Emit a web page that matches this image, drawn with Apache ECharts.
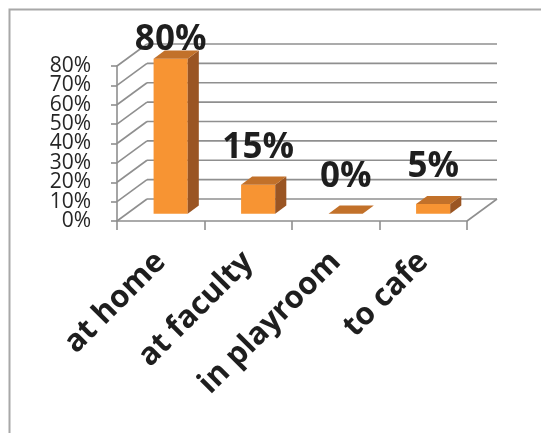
<!DOCTYPE html>
<html>
<head>
<meta charset="utf-8">
<script src="https://cdn.jsdelivr.net/npm/echarts@6/dist/echarts.min.js"></script>
<style>
  html, body { margin: 0; padding: 0; background: #ffffff; }
  #chart { width: 541px; height: 433px; }
</style>
</head>
<body>
<div id="chart"></div>
<script>
// Where the students spend their time
const categories = ['at home', 'at faculty', 'in playroom', 'to cafe'];
const shares = [80, 15, 0, 5];
const yTicks = [0, 10, 20, 30, 40, 50, 60, 70, 80];

// Oblique depth of the pseudo-3D box (pixels from front plane to back wall)
const DEPTH_X = 30;
const DEPTH_Y = -22;
// Bars sit between these depth fractions and fill this share of a band
const BAR_NEAR = 0.33;
const BAR_FAR = 0.70;
const BAR_WIDTH = 0.39;

const GRID_COLOR = '#8f8f8f';
const FRONT = '#F79433';
const SIDE = '#9A5523';
const TOP = '#C2712A';

const chart = echarts.init(document.getElementById('chart'), null, { renderer: 'canvas' });

// Left wall, back wall gridline and the value-axis label for one tick
function wallItem(params, api) {
  const cs = params.coordSys;
  const v = api.value(1);
  const yF = api.coord([0, v])[1];
  const xL = cs.x;
  const xR = cs.x + cs.width;
  const style = { stroke: GRID_COLOR, lineWidth: 1.6, fill: null };
  const children = [
    { type: 'line', shape: { x1: xL, y1: yF, x2: xL + DEPTH_X, y2: yF + DEPTH_Y }, style },
    { type: 'line', shape: { x1: xL + DEPTH_X, y1: yF + DEPTH_Y, x2: xR + DEPTH_X, y2: yF + DEPTH_Y }, style },
    {
      type: 'text',
      style: {
        x: xL - 26, y: yF,
        text: v + '%',
        fill: '#262626',
        font: '21px "Open Sans"',
        align: 'right', verticalAlign: 'middle'
      }
    }
  ];
  if (v === 0) {
    children.push({ type: 'line', shape: { x1: xR, y1: yF, x2: xR + DEPTH_X, y2: yF + DEPTH_Y }, style });
  }
  return { type: 'group', children };
}

// One 3D bar (front, side and top faces) with its value label
function barItem(params, api) {
  const idx = api.value(0);
  const val = api.value(1);
  const base = api.coord([idx, 0]);
  const top = api.coord([idx, val]);
  const band = api.size([1, 0])[0];
  const w = band * BAR_WIDTH;
  const nx = DEPTH_X * BAR_NEAR, ny = DEPTH_Y * BAR_NEAR;
  const dx = DEPTH_X * (BAR_FAR - BAR_NEAR), dy = DEPTH_Y * (BAR_FAR - BAR_NEAR);
  const x0 = base[0] - w / 2 + nx;
  const x1 = base[0] + w / 2 + nx;
  const yb = base[1] + ny;
  const yt = top[1] + ny;
  const children = [];
  if (yb - yt > 0.5) {
    children.push({ type: 'polygon', shape: { points: [[x0, yb], [x1, yb], [x1, yt], [x0, yt]] }, style: { fill: FRONT } });
    children.push({ type: 'polygon', shape: { points: [[x1, yb], [x1 + dx, yb + dy], [x1 + dx, yt + dy], [x1, yt]] }, style: { fill: SIDE } });
  }
  children.push({ type: 'polygon', shape: { points: [[x0, yt], [x1, yt], [x1 + dx, yt + dy], [x0 + dx, yt + dy]] }, style: { fill: TOP } });
  const labelY = Math.max(yt + dy - 29, 40);
  children.push({
    type: 'text',
    style: {
      x: (x0 + x1) / 2, y: labelY,
      text: val + '%',
      fill: '#1e1e1e',
      font: 'bold 35px "Open Sans"',
      align: 'center', verticalAlign: 'middle'
    }
  });
  return { type: 'group', children };
}

chart.setOption({
  animation: false,
  backgroundColor: '#ffffff',
  graphic: [{
    type: 'rect', left: 7, top: 7, z: -10,
    shape: { width: 560, height: 460 },
    style: { fill: null, stroke: '#a8a8a8', lineWidth: 2 }
  }],
  grid: { left: 117, right: 74, top: 66, bottom: 212 },
  xAxis: {
    type: 'category',
    data: categories,
    axisLine: { show: true, lineStyle: { color: GRID_COLOR, width: 1.6 } },
    axisTick: { show: true, length: 9, lineStyle: { color: GRID_COLOR, width: 1.6 } },
    axisLabel: {
      rotate: 45, margin: 36, interval: 0, hideOverlap: false,
      fontFamily: 'Open Sans', fontWeight: 'bold', fontSize: 31, color: '#1e1e1e'
    }
  },
  yAxis: {
    type: 'value', min: 0, max: 80, interval: 10,
    axisLine: { show: true, lineStyle: { color: GRID_COLOR, width: 1.6 } },
    axisTick: { show: true, length: 6, lineStyle: { color: GRID_COLOR, width: 1.6 } },
    splitLine: { show: false },
    axisLabel: { show: false }
  },
  series: [
    {
      type: 'custom', renderItem: wallItem, z: 1, silent: true,
      data: yTicks.map(v => [0, v])
    },
    {
      type: 'custom', renderItem: barItem, z: 3, silent: true,
      data: shares.map((v, i) => [i, v])
    }
  ]
});
</script>
</body>
</html>
